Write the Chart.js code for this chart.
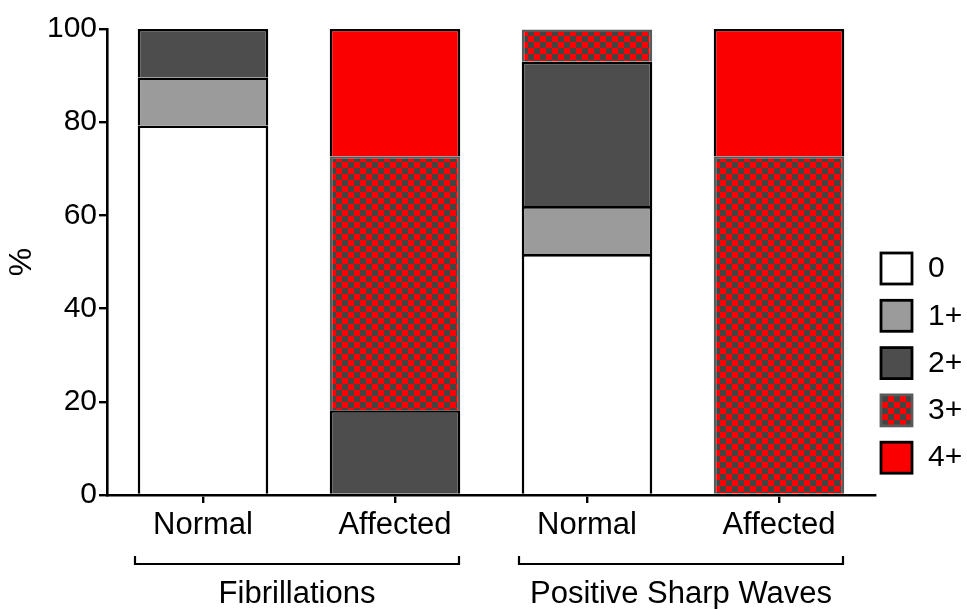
<!DOCTYPE html>
<html>
<head>
<meta charset="utf-8">
<script src="https://cdn.jsdelivr.net/npm/chart.js@4"></script>
<style>
  body { margin: 0; background: #fff; }
  #wrap { width: 967px; height: 609px; }
</style>
</head>
<body>
<div id="wrap"><canvas id="emgChart" width="967" height="609"></canvas></div>
<script>
// data (% of muscles per grade)
const categories = ["Normal", "Affected", "Normal", "Affected"];
const groups = ["Fibrillations", "Positive Sharp Waves"];
const gradeLabels = ["0", "1+", "2+", "3+", "4+"];
const grade0 = [79.3, null, 51.7, null];
const grade1 = [10.3, null, 10.3, null];
const grade2 = [10.4, 18.2, 31.0, null];
const grade3 = [null, 54.5, 6.9, 72.7];
const grade4 = [null, 27.3, null, 27.3];
const yTicks = [0, 20, 40, 60, 80, 100];

const FONT = "'Liberation Sans', Arial, sans-serif";
Chart.defaults.font.family = FONT;
Chart.defaults.color = "#000";

// red / dark grey checkerboard for 3+
function checker() {
  const c = document.createElement("canvas");
  c.width = 12; c.height = 12;
  const g = c.getContext("2d");
  g.fillStyle = "#444444";
  g.fillRect(0, 0, 12, 12);
  g.fillStyle = "#ff0000";
  g.fillRect(0, 0, 6, 6);
  g.fillRect(6, 6, 6, 6);
  return g.createPattern(c, "repeat");
}
const checkFill = checker();

function ds(label, data, fill, border) {
  return {
    label: label,
    data: data,
    backgroundColor: fill,
    borderColor: border,
    borderWidth: 2.6,
    barPercentage: 0.68,
    categoryPercentage: 1.0
  };
}

// group brackets + names below the category labels
const groupPlugin = {
  id: "groupBrackets",
  afterDraw(chart) {
    const ctx = chart.ctx;
    const x = chart.scales.x;
    ctx.save();
    ctx.strokeStyle = "#000";
    ctx.lineWidth = 2.2;
    ctx.font = "31px " + FONT;
    ctx.fillStyle = "#000";
    ctx.textAlign = "center";
    ctx.textBaseline = "middle";
    groups.forEach((name, i) => {
      const l = x.getPixelForValue(i * 2) - 68;
      const r = x.getPixelForValue(i * 2 + 1) + 64;
      ctx.beginPath();
      ctx.moveTo(l, 556);
      ctx.lineTo(l, 564);
      ctx.lineTo(r, 564);
      ctx.lineTo(r, 556);
      ctx.stroke();
      ctx.fillText(name, (l + r) / 2, 594);
    });
    ctx.restore();
  }
};

// legend on the right, boxes stacked
const legendPlugin = {
  id: "sideLegend",
  afterDraw(chart) {
    const ctx = chart.ctx;
    ctx.save();
    ctx.font = "30px " + FONT;
    ctx.textBaseline = "middle";
    ctx.textAlign = "left";
    chart.data.datasets.forEach((d, i) => {
      const cy = 268 + i * 47.3;
      ctx.fillStyle = d.backgroundColor;
      ctx.fillRect(881, cy - 15, 31, 31);
      ctx.strokeStyle = d.borderColor;
      ctx.lineWidth = 2.8;
      ctx.strokeRect(881, cy - 15, 31, 31);
      ctx.fillStyle = "#000";
      ctx.fillText(d.label, 928, cy + 1);
    });
    ctx.restore();
  }
};

new Chart(document.getElementById("emgChart"), {
  type: "bar",
  data: {
    labels: categories,
    datasets: [
      ds(gradeLabels[0], grade0, "#ffffff", "#000000"),
      ds(gradeLabels[1], grade1, "#9b9b9b", "#000000"),
      ds(gradeLabels[2], grade2, "#4d4d4d", "#000000"),
      ds(gradeLabels[3], grade3, checkFill, "#5a5a5a"),
      ds(gradeLabels[4], grade4, "#fa0000", "#000000")
    ]
  },
  options: {
    responsive: false,
    animation: false,
    layout: { padding: { top: 29, right: 92, left: 0, bottom: 0 } },
    plugins: {
      legend: { display: false },
      tooltip: { enabled: false }
    },
    scales: {
      x: {
        stacked: true,
        grid: { offset: false, drawOnChartArea: false, drawTicks: true, tickLength: 8, color: "#000", lineWidth: 2.4 },
        border: { display: true, color: "#000", width: 2.6 },
        ticks: { font: { size: 31 }, padding: 4, maxRotation: 0 },
        afterFit(axis) { axis.height = 114; }
      },
      y: {
        stacked: true,
        min: 0,
        max: 100,
        afterBuildTicks(axis) { axis.ticks = yTicks.map(v => ({ value: v })); },
        grid: { drawOnChartArea: false, drawTicks: true, tickLength: 8, color: "#000", lineWidth: 2.4 },
        border: { display: true, color: "#000", width: 2.6 },
        ticks: { font: { size: 30 }, padding: 2 },
        title: { display: true, text: "%", font: { size: 32 }, padding: { top: 3, bottom: 0 } },
        afterFit(axis) { axis.width = 107; }
      }
    }
  },
  plugins: [groupPlugin, legendPlugin]
});
</script>
</body>
</html>
